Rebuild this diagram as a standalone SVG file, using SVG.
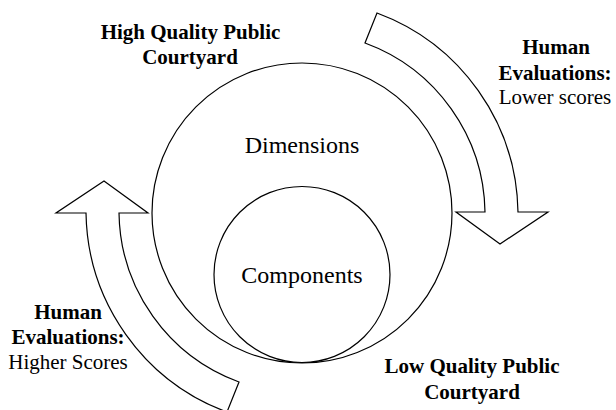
<svg xmlns="http://www.w3.org/2000/svg" width="616" height="410" viewBox="0 0 616 410">
  <style>
    .shape { fill: #ffffff; stroke: #000000; stroke-width: 1.2; stroke-linejoin: miter; }
    .ring { fill: none; stroke: #000000; stroke-width: 1.2; }
    text { font-family: 'Liberation Serif', 'DejaVu Serif', serif; fill: #000000; text-anchor: middle; }
    .lbl { font-size: 21px; }
    .b { font-weight: bold; }
    .big { font-size: 24px; }
  </style>
  <rect width="616" height="410" fill="#ffffff"/>
  <defs>
    <path id="curvedArrow" d="M 377,13 A 216 216 0 0 1 518,212 L 548,212 L 500,244 L 456,212 L 485,212 A 183 183 0 0 0 365,43 Z"/>
  </defs>
  <g id="connectors">
    <g id="arrow-lower">
      <use href="#curvedArrow" class="shape"/>
    </g>
    <g id="arrow-higher">
      <use href="#curvedArrow" class="shape" transform="rotate(180 302 212.5)"/>
    </g>
  </g>
  <g id="dimensions">
    <circle class="ring" cx="302" cy="213" r="150"/>
    <text class="big" x="302" y="153" font-family="Liberation Serif, serif">Dimensions</text>
  </g>
  <g id="components">
    <circle class="ring" cx="302" cy="274.5" r="88"/>
    <text class="big" x="302" y="283" font-family="Liberation Serif, serif">Components</text>
  </g>
  <g id="high-quality" font-family="Liberation Serif, serif">
    <text class="lbl b" x="190.5" y="39">High Quality Public</text>
    <text class="lbl b" x="190" y="64">Courtyard</text>
  </g>
  <g id="low-quality" font-family="Liberation Serif, serif">
    <text class="lbl b" x="472" y="373">Low Quality Public</text>
    <text class="lbl b" x="472" y="399">Courtyard</text>
  </g>
  <g id="eval-lower" font-family="Liberation Serif, serif">
    <text class="lbl b" x="556" y="54">Human</text>
    <text class="lbl b" x="555" y="80">Evaluations:</text>
    <text class="lbl" x="555" y="104">Lower scores</text>
  </g>
  <g id="eval-higher" font-family="Liberation Serif, serif">
    <text class="lbl b" x="68" y="319">Human</text>
    <text class="lbl b" x="68" y="344">Evaluations:</text>
    <text class="lbl" x="68" y="369">Higher Scores</text>
  </g>
</svg>
